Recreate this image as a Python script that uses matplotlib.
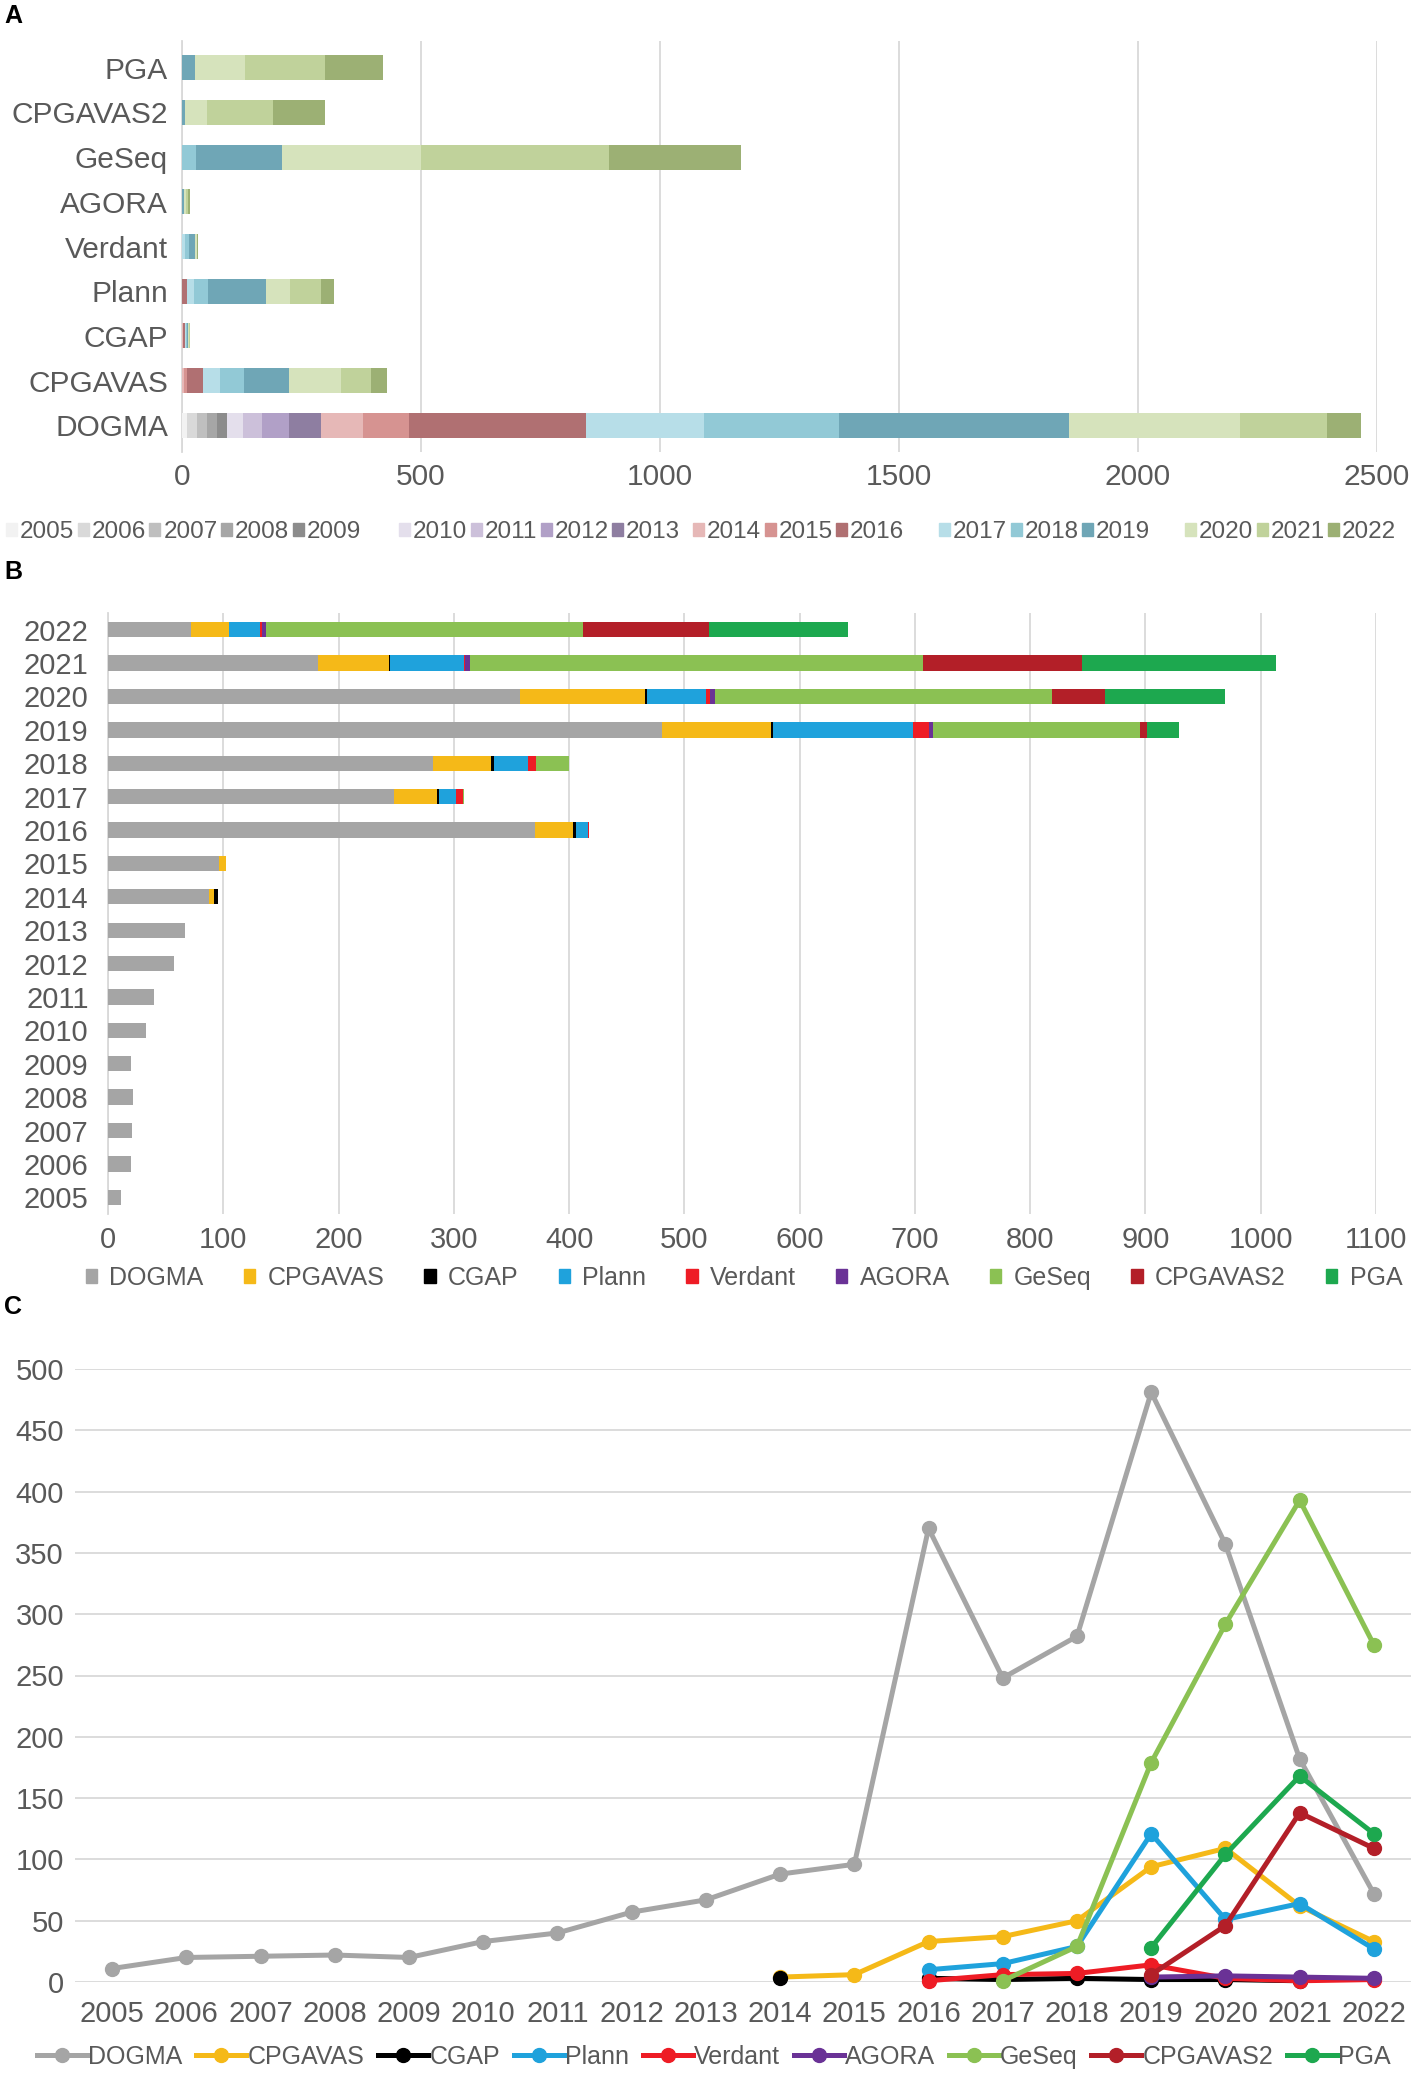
import numpy as np
import matplotlib
matplotlib.use('Agg')
import matplotlib.pyplot as plt
from matplotlib.lines import Line2D
from matplotlib.patches import Patch

plt.rcParams['font.family'] = ['Liberation Sans', 'DejaVu Sans']

# ---------------- data ----------------
years = list(range(2005, 2023))
year_labels = [str(y) for y in years]
tools = ['DOGMA', 'CPGAVAS', 'CGAP', 'Plann', 'Verdant', 'AGORA', 'GeSeq', 'CPGAVAS2', 'PGA']
n = np.nan
dogma = [11, 20, 21, 22, 20, 33, 40, 57, 67, 88, 96, 370, 248, 282, 481, 357, 182, 72]
cpgavas = [n] * 9 + [4, 6, 33, 37, 50, 94, 109, 62, 33]
cgap = [n] * 9 + [3, n, 3, 2, 3, 2, 2, 1, n]
plann = [n] * 11 + [10, 15, 29, 121, 51, 64, 27]
verdant = [n] * 11 + [1, 6, 7, 14, 3, 1, 2]
agora = [n] * 14 + [4, 5, 4, 3]
geseq = [n] * 12 + [1, 29, 179, 292, 393, 275]
cpgavas2 = [n] * 14 + [6, 46, 138, 109]
pga = [n] * 14 + [28, 104, 168, 121]
series = [dogma, cpgavas, cgap, plann, verdant, agora, geseq, cpgavas2, pga]

tool_colors = ['#A5A5A5', '#F5B918', '#000000', '#1FA2DC', '#EE1C25',
               '#6A3296', '#8BC153', '#B31F28', '#1DA84F']
year_colors = ['#F2F2F2', '#D9D9D9', '#BFBFBF', '#A6A6A6', '#8C8C8C',
               '#E4DFEC', '#CCC0DA', '#B1A0C7', '#8E7EA1',
               '#E6B8B7', '#D69391', '#B07072',
               '#B7DEE8', '#92C9D6', '#6FA6B6',
               '#D6E3BC', '#C0D29B', '#9CB074']
year_groups = [(0, 5), (5, 9), (9, 12), (12, 15), (15, 18)]

data = np.nan_to_num(np.array(series, dtype=float))  # tools x years

TXT = '#595959'
GRID = '#D9D9D9'
W, H = 1413, 2075
fig = plt.figure(figsize=(W / 100, H / 100), dpi=100)


def frac_box(l, t, r, b):
    return [l / W, 1 - b / H, (r - l) / W, (b - t) / H]


# ---------------- panel A ----------------
axA = fig.add_axes(frac_box(182, 41, 1377, 452))
for ti, tool in enumerate(tools):
    left = 0.0
    for yi in range(len(years)):
        v = data[ti, yi]
        axA.barh(ti, v, left=left, height=0.56, color=year_colors[yi], zorder=3)
        left += v
axA.set_xlim(0, 2500)
axA.set_ylim(-0.6, 8.6)
axA.set_xticks(range(0, 2501, 500))
axA.set_yticks(range(len(tools)))
axA.set_yticklabels(tools)
axA.grid(axis='x', color=GRID, lw=1.3, zorder=0)
for s in ['top', 'right', 'bottom']:
    axA.spines[s].set_visible(False)
axA.spines['left'].set_color(GRID)
axA.spines['left'].set_linewidth(1.3)
axA.tick_params(axis='both', length=0, colors=TXT, labelsize=21.5)
axA.tick_params(axis='y', pad=10)
axA.tick_params(axis='x', pad=8)

group_x = [6, 399, 693, 939, 1185]
for (a, b), gx in zip(year_groups, group_x):
    hs = [Patch(color=year_colors[i]) for i in range(a, b)]
    fig.legend(hs, year_labels[a:b], loc='center left', bbox_to_anchor=(gx / W, 1 - 532 / H),
               ncol=b - a, frameon=False, fontsize=17.5, handlelength=0.45, handleheight=0.45,
               handletextpad=0.12, columnspacing=0.15, borderpad=0, borderaxespad=0,
               labelcolor=TXT)

# ---------------- panel B ----------------
axB = fig.add_axes(frac_box(108, 613, 1376, 1214))
left = np.zeros(len(years))
for ti, tool in enumerate(tools):
    axB.barh(range(len(years)), data[ti], left=left, height=0.46, color=tool_colors[ti],
             label=tool, zorder=3)
    left += data[ti]
axB.set_xlim(0, 1100)
axB.set_ylim(-0.5, 17.5)
axB.set_xticks(range(0, 1101, 100))
axB.set_yticks(range(len(years)))
axB.set_yticklabels(year_labels)
axB.grid(axis='x', color=GRID, lw=1.3, zorder=0)
for s in ['top', 'right', 'bottom']:
    axB.spines[s].set_visible(False)
axB.spines['left'].set_color(GRID)
axB.spines['left'].set_linewidth(1.3)
axB.tick_params(axis='both', length=0, colors=TXT, labelsize=21)
axB.tick_params(axis='y', pad=14)
axB.tick_params(axis='x', pad=9)
hB = [Patch(color=c) for c in tool_colors]
fig.legend(hB, tools, loc='center', bbox_to_anchor=(744 / W, 1 - 1278 / H), ncol=9,
           frameon=False, fontsize=18, handlelength=0.45, handleheight=0.45,
           handletextpad=0.5, columnspacing=1.6, borderpad=0, borderaxespad=0,
           labelcolor=TXT)

# ---------------- panel C ----------------
axC = fig.add_axes(frac_box(75, 1369, 1411, 1982))
x = np.arange(len(years))
for ti, tool in enumerate(tools):
    axC.plot(x, series[ti], color=tool_colors[ti], lw=3.6, marker='o', ms=10,
             label=tool, zorder=3 + ti, clip_on=False)
axC.set_xlim(-0.5, 17.5)
axC.set_ylim(0, 500)
axC.set_yticks(range(0, 501, 50))
axC.set_xticks(x)
axC.set_xticklabels(year_labels)
axC.grid(axis='y', color=GRID, lw=1.3, zorder=0)
for s in ['top', 'right', 'bottom', 'left']:
    axC.spines[s].set_visible(False)
axC.tick_params(axis='both', length=0, colors=TXT, labelsize=21)
axC.tick_params(axis='y', pad=8)
axC.tick_params(axis='x', pad=13)
hC = [Line2D([0], [0], color=c, lw=3.6, marker='o', ms=10) for c in tool_colors]
fig.legend(hC, tools, loc='center', bbox_to_anchor=(714 / W, 1 - 2057 / H), ncol=9,
           frameon=False, fontsize=18, handlelength=2.0, handletextpad=0.05,
           columnspacing=0.55, borderpad=0, borderaxespad=0, labelcolor=TXT)

# ---------------- panel letters ----------------
for lab, yy in [('A', 16), ('B', 572), ('C', 1307)]:
    fig.text(4 / W, 1 - yy / H, lab, fontsize=18, fontweight='bold', color='black',
             ha='left', va='center')

fig.savefig('out.png', dpi=100)
